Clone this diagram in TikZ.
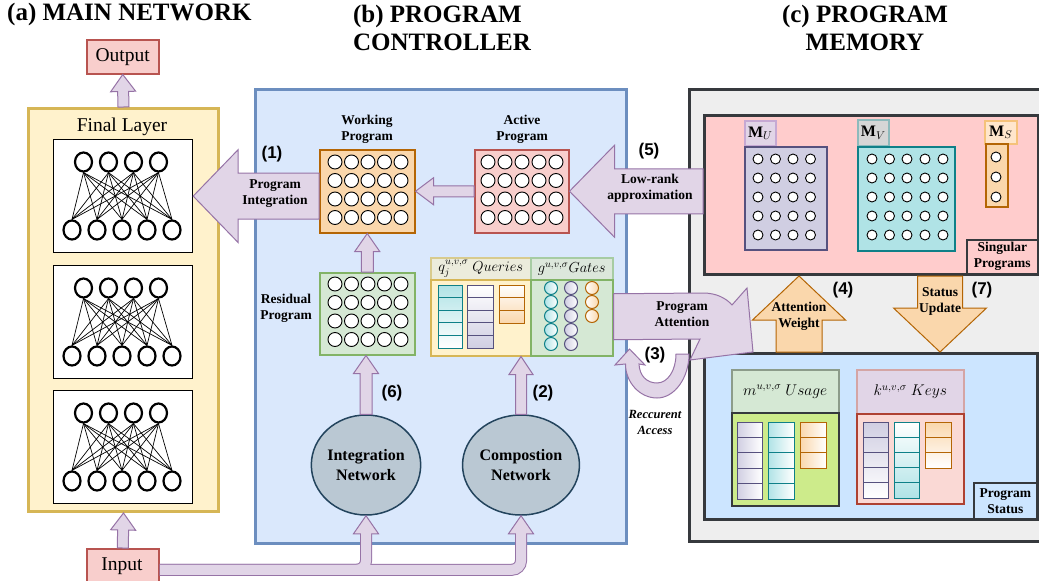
\RequirePackage{fix-cm}
\documentclass[tikz,border=0pt]{standalone}
\usepackage{fontspec}
\setmainfont{Liberation Serif}
\newfontfamily\arialf{Liberation Sans}
\usetikzlibrary{calc,shapes.geometric}

\definecolor{purF}{HTML}{E1D5E7}\definecolor{purS}{HTML}{9673A6}
\definecolor{yelF}{HTML}{FFF2CC}\definecolor{yelS}{HTML}{D6B656}
\definecolor{redF}{HTML}{F8CECC}\definecolor{redS}{HTML}{B85450}
\definecolor{bluF}{HTML}{DAE8FC}\definecolor{bluS}{HTML}{6C8EBF}
\definecolor{oraF}{HTML}{FAD7AC}\definecolor{oraS}{HTML}{B46504}
\definecolor{greF}{HTML}{D5E8D4}\definecolor{greS}{HTML}{82B366}
\definecolor{tealF}{HTML}{B0E3E6}\definecolor{tealS}{HTML}{0E8088}
\definecolor{lavF}{HTML}{D0CEE2}\definecolor{lavS}{HTML}{56517E}
\definecolor{greyF}{HTML}{EEEEEE}\definecolor{darkS}{HTML}{36393D}
\definecolor{pinkF}{HTML}{FFCCCC}\definecolor{sblueF}{HTML}{CCE5FF}
\definecolor{slateF}{HTML}{BAC8D3}\definecolor{slateS}{HTML}{23445D}
\definecolor{limeF}{HTML}{CDEB8B}
\definecolor{salF}{HTML}{FAD9D5}\definecolor{salS}{HTML}{AE4132}
\definecolor{qhF}{HTML}{ECECDC}\definecolor{qhS}{HTML}{D8CB8E}
\definecolor{ghF}{HTML}{DCE7DB}\definecolor{ghS}{HTML}{A7CCA3}
\definecolor{uhS}{HTML}{8C9C8A}\definecolor{khS}{HTML}{D4A5A5}
\definecolor{mvF}{HTML}{D6D6D6}\definecolor{mvS}{HTML}{8DBABC}
\definecolor{msF}{HTML}{FFE6CC}\definecolor{msS}{HTML}{F5C27A}
\definecolor{muS}{HTML}{C6A9D3}

\newcommand\boxat[7]{\node[#6, anchor=north west, minimum width=#4pt-#2pt, minimum height=#5pt-#3pt, inner sep=0pt, align=center] (#1) at (#2,#3) {#7};}

\newcommand\barrow[6][]{%
  \path let \p1=(#2), \p2=(#3), \n1={atan2(\y2-\y1,\x2-\x1)}, \n2={veclen(\x2-\x1,\y2-\y1)} in \pgfextra{\xdef\baang{\n1}\xdef\balen{\n2}\xdef\bapx{\x1}\xdef\bapy{\y1}};%
  \draw[blockarrow,#1,shift={(\bapx,\bapy)},rotate=\baang] (0,#4) -- ({\balen-#6},#4) -- ({\balen-#6},#5) -- (\balen,0) -- ({\balen-#6},-#5) -- ({\balen-#6},-#4) -- (0,-#4) -- cycle;}

\newcommand\cellcol[7]{%
  \shade[#7] (#1,#2) rectangle (#3,#4);
  \foreach \k in {1,...,#5}{\draw[draw=#6, line width=1pt] (#1,{#2+(\k-1)*(#4-#2)/#5}) rectangle (#3,{#2+\k*(#4-#2)/#5});}}

\tikzset{
  title/.style={font=\bfseries\fontsize{25}{28}\selectfont, inner sep=0pt},
  lbl/.style={font=\bfseries\fontsize{13.5}{16}\selectfont, align=center, inner sep=0pt},
  num/.style={font=\arialf\bfseries\fontsize{17}{20}\selectfont, inner sep=0pt},
  big/.style={font=\fontsize{19.5}{23}\selectfont},
  mth/.style={font=\fontsize{14.5}{17}\selectfont},
  mlab/.style={font=\fontsize{16}{18}\selectfont},
  thinbox/.style={draw, line width=1.5pt},
  panel/.style={draw, line width=3pt},
  neuron/.style={ellipse, draw=black, line width=2.2pt, fill=white, minimum width=17pt, minimum height=19pt, inner sep=0pt},
  dot/.style={draw=black, fill=white, line width=0.9pt},
  blockarrow/.style={draw=purS, fill=purF, line width=1pt, line join=miter},
  orarrow/.style={draw=oraS, fill=oraF},
  netell/.style={ellipse, draw=slateS, fill=slateF, line width=1.5pt, minimum width=100pt, minimum height=100pt, inner sep=0pt, font=\bfseries\fontsize{16}{20}\selectfont, align=center},
}

\begin{document}
\begin{tikzpicture}[x=1pt,y=-1pt]
\useasboundingbox (0,0) rectangle (1039,581);
\clip (0,0) rectangle (1039,581);

% titles
\node[title, anchor=west] (ta) at (7,14) {(a) MAIN NETWORK};
\node[title, align=left] (tb) at (442,28) {(b) PROGRAM\\CONTROLLER};
\node[title, align=center] (tc) at (865,28) {(c) PROGRAM\\MEMORY};

% ---------- (c) program memory ----------
\boxat{mem}{688}{88}{1060}{540}{panel, draw=darkS, fill=greyF}{}
\boxat{sing}{703}{114}{1037}{273}{panel, draw=darkS, fill=pinkF}{}
\boxat{singlab}{966}{239}{1037}{273}{thinbox, draw=darkS, fill=pinkF, lbl}{Singular\\Programs}
\boxat{mulab}{744}{120}{775}{145}{thinbox, draw=muS, fill=purF, mlab}{$\mathbf{M}_U$}
\boxat{mu}{744}{146}{826}{249}{thinbox, draw=lavS, fill=lavF}{}
\foreach \cx in {758,775.5,793,810.5} \foreach \cy in {159,178,197,216,235} \draw[dot] (\cx,\cy) circle[radius=5pt];
\boxat{mvlab}{857}{119}{888}{145}{thinbox, draw=mvS, fill=mvF, mlab}{$\mathbf{M}_V$}
\boxat{mv}{857}{146}{954}{250}{thinbox, draw=tealS, fill=tealF}{}
\foreach \cx in {872,889.5,907,925,943} \foreach \cy in {159,178,197,216,235} \draw[dot] (\cx,\cy) circle[radius=5pt];
\boxat{mslab}{984}{120}{1016}{143}{thinbox, draw=msS, fill=msF, mlab}{$\mathbf{M}_S$}
\boxat{ms}{985}{143}{1007}{206}{thinbox, draw=oraS, fill=oraF}{}
\foreach \cy in {157,177,197} \draw[dot] (996,\cy) circle[radius=5pt];

\boxat{stat}{703}{352}{1036}{518}{panel, draw=darkS, fill=sblueF}{}
\boxat{statlab}{973}{482}{1036}{518}{thinbox, draw=darkS, fill=sblueF, lbl}{Program\\Status}
\boxat{uhead}{731}{369}{838}{412}{thinbox, draw=uhS, fill=greF, font=\fontsize{15.5}{18}\selectfont}{$m^{u,v,\sigma}\ Usage$}
\boxat{ubody}{731}{412}{838}{505}{thinbox, draw=darkS, fill=limeF}{}
\cellcol{737}{422}{762}{499}{5}{lavS}{left color=lavF, right color=white}
\cellcol{768}{422}{794}{499}{5}{tealS}{left color=tealF, right color=white}
\cellcol{800}{422}{826}{468}{3}{oraS}{left color=oraF, right color=white}
\boxat{khead}{856}{369}{963}{413}{thinbox, draw=khS, fill=purF, font=\fontsize{15.5}{18}\selectfont}{$k^{u,v,\sigma}\ Keys$}
\boxat{kbody}{856}{413}{963}{503}{thinbox, draw=salS, fill=salF}{}
\cellcol{863}{422}{888}{498}{5}{lavS}{top color=lavF, bottom color=white}
\cellcol{894}{422}{919}{498}{5}{tealS}{top color=white, bottom color=tealF}
\cellcol{925}{422}{951}{468}{3}{oraS}{top color=oraF, bottom color=white}

% ---------- (a) main network ----------
\boxat{yel}{27}{107}{217}{510}{panel, draw=yelS, fill=yelF}{}
\node[big, inner sep=0pt] (ftitle) at (122,127) {Final Layer};
\boxat{out}{86}{39}{158}{73}{thinbox, draw=redS, fill=redF, big}{Output}
\boxat{inp}{86}{548}{158}{590}{thinbox, draw=redS, fill=redF, big}{}
\node[big, inner sep=0pt] (inptxt) at (122,566) {Input};
\foreach \b/\t in {1/139,2/265,3/390}{
  \boxat{net\b}{53}{\t}{192}{\t+113}{draw=black, line width=1.2pt, fill=white}{}
  \foreach \i/\x in {1/83.5,2/108.5,3/133.5,4/158.5} \node[neuron] (n\b t\i) at (\x,{\t+23}) {};
  \foreach \j/\x in {1/72,2/97,3/122,4/147,5/172} \node[neuron] (n\b b\j) at (\x,{\t+91}) {};
  \foreach \i in {1,...,4} \foreach \j in {1,...,5} \draw[line width=0.7pt] (n\b t\i.south) -- (n\b b\j.north);
}

% ---------- (b) program controller ----------
\boxat{ctrl}{254}{88}{625}{542}{panel, draw=bluS, fill=bluF}{}
\node[lbl] (wlab) at (367,129) {Working\\Program};
\node[lbl] (alab) at (522,129) {Active\\Program};
\node[lbl] (rlab) at (286,308) {Residual\\Program};
\boxat{work}{319}{149}{414}{232}{thinbox, draw=oraS, fill=oraF}{}
\foreach \cx in {335,351.5,368,384.5,401} \foreach \cy in {162,180.5,199,217.5} \draw[dot] (\cx,\cy) circle[radius=7pt];
\boxat{act}{474}{149}{568}{232}{thinbox, draw=redS, fill=redF}{}
\foreach \cx in {488,505,522,539,556} \foreach \cy in {162,180.5,199,217.5} \draw[dot] (\cx,\cy) circle[radius=7pt];
\boxat{res}{319}{272}{414}{354}{thinbox, draw=greS, fill=greF}{}
\foreach \cx in {335,351.5,368,384.5,401} \foreach \cy in {284,302.5,321,339.5} \draw[dot] (\cx,\cy) circle[radius=7pt];

\boxat{qhead}{430}{257}{530}{279}{thinbox, draw=qhS, fill=qhF, mth}{$q_j^{u,v,\sigma}\ Queries$}
\boxat{qbody}{430}{279}{530}{355}{thinbox, draw=yelS, fill=yelF}{}
\boxat{ghead}{530}{257}{612}{279}{thinbox, draw=ghS, fill=ghF, mth}{$g^{u,v,\sigma}Gates$}
\boxat{gbody}{530}{279}{612}{355}{thinbox, draw=greS, fill=greF}{}
\cellcol{438}{285}{462}{348}{5}{tealS}{top color=tealF, bottom color=white}
\cellcol{467}{285}{493}{348}{5}{lavS}{top color=white, bottom color=lavF}
\cellcol{499}{285}{524}{323}{3}{oraS}{top color=white, bottom color=oraF}
\foreach \k in {0,...,4}{
  \shadedraw[draw=tealS, line width=1pt, left color=tealF, right color=white] (551,{288+14*\k}) circle[radius=6.5pt];
  \shadedraw[draw=lavS, line width=1pt, left color=lavF, right color=white] (571,{288+14*\k}) circle[radius=6.5pt];}
\foreach \k in {0,...,2}
  \shadedraw[draw=oraS, line width=1pt, left color=white, right color=oraF] (592,{288+14*\k}) circle[radius=6.5pt];

\node[netell] (integ) at (366,465) {Integration\\Network};
\node[netell] (comp) at (521,465) {Compostion\\Network};

% ---------- recurrent access and program attention ----------
\draw[blockarrow] (689,354) .. controls (689,378) and (674.5,398) .. (657,398)
  .. controls (639.5,398) and (625.5,382) .. (625.5,364) -- (615,365) -- (629.5,349) -- (645,365) -- (639,364)
  .. controls (639.5,376) and (647,383) .. (657,383) .. controls (668,383) and (676,370) .. (676,354) -- cycle;
\draw[blockarrow] ($(gbody.east)+(0,-24)$) -- (703,293) .. controls (716,293) and (726,298) .. (732,305)
  -- (747,288) -- (753,352) -- (690,360) -- (700,339) -- ($(gbody.east)+(0,22)$) -- cycle;

% ---------- block arrows ----------
\barrow{yel.north}{out.south}{5.5}{12.5}{17}
\barrow{inp.north}{yel.south}{5.5}{12.5}{17}
\barrow{work.west |- net1.east}{net1.east}{23}{46.5}{45}
\barrow{sing.west |- act.east}{act.east}{22.5}{46}{45}
\barrow{act.west}{work.east}{5.5}{13.5}{18}
\barrow{res.north}{work.south}{6}{12.5}{18}
\barrow{integ.north}{integ.north |- res.south}{6}{12.5}{18}
\barrow{comp.north}{comp.north |- qbody.south}{5.5}{12}{18}
\barrow[orarrow]{$(stat.north west)+(96,0)$}{$(sing.south west)+(96,0)$}{23}{46.5}{44}
\barrow[orarrow]{$(sing.south west)+(237,0)$}{$(stat.north west)+(237,0)$}{22.5}{46.5}{44}

% input routing
\draw[line width=12pt, draw=purS, rounded corners=9pt] (inp.east) -- (integ.south |- inp.east) -- ($(integ.south)+(0,18)$);
\draw[line width=12pt, draw=purS, rounded corners=9pt] (inp.east) -- (comp.south |- inp.east) -- ($(comp.south)+(0,18)$);
\draw[blockarrow] ($(integ.south)+(-12.5,18)$) -- (integ.south) -- ($(integ.south)+(12.5,18)$) -- cycle;
\draw[blockarrow] ($(comp.south)+(-12.5,18)$) -- (comp.south) -- ($(comp.south)+(12.5,18)$) -- cycle;
\draw[line width=10pt, draw=purF, rounded corners=9pt] ($(inp.east)+(0.6,0)$) -- (integ.south |- inp.east) -- ($(integ.south)+(0,17)$);
\draw[line width=10pt, draw=purF, rounded corners=9pt] ($(inp.east)+(0.6,0)$) -- (comp.south |- inp.east) -- ($(comp.south)+(0,17)$);

% ---------- arrow labels ----------
\node[lbl] (pitxt) at (275,194) {Program\\Integration};
\node[lbl] (lrtxt) at (650,188.5) {Low-rank\\approximation};
\node[lbl] (patxt) at (682,314.5) {Program\\Attention};
\node[lbl] (awtxt) at (799,316) {Attention\\Weight};
\node[lbl] (sutxt) at (940,301) {Status\\Update};
\node[lbl, font=\bfseries\itshape\fontsize{12.5}{16}\selectfont] (ratxt) at (655,422) {Reccurent\\Access};

\node[num] (l1) at (272,154) {(1)};
\node[num] (l2) at (543,393) {(2)};
\node[num] (l3) at (655,355) {(3)};
\node[num] (l4) at (843,290) {(4)};
\node[num] (l5) at (649,151) {(5)};
\node[num] (l6) at (392,393) {(6)};
\node[num] (l7) at (982,290) {(7)};
\end{tikzpicture}
\end{document}
